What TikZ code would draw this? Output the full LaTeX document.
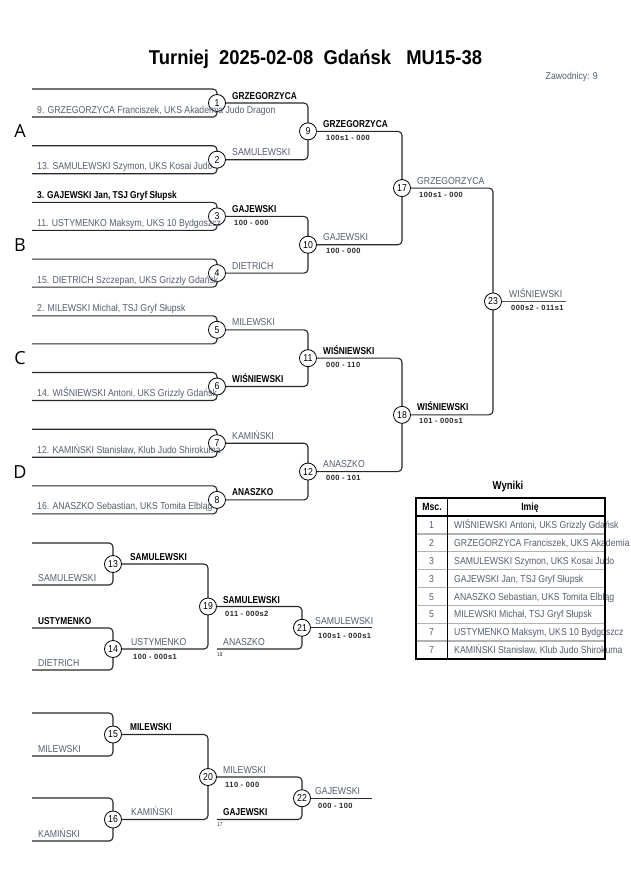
\documentclass[tikz,border=0pt]{standalone}
\usepackage{fontspec}
\setmainfont{Liberation Sans}[FakeStretch=0.87]
\newfontfamily\bnf{Liberation Sans}[FakeStretch=0.83]
\newfontfamily\ttlf{Liberation Sans}[FakeStretch=0.92]
\newfontfamily\scf{Liberation Sans}[LetterSpace=6]
\newfontfamily\letf{Open Sans}
\definecolor{nmgray}{RGB}{85,95,110}
\definecolor{ln}{RGB}{40,40,40}
\tikzset{
  br/.style={draw=ln, line width=1.1pt, rounded corners=4pt},
  fin/.style={draw=ln!80, line width=1.6pt},
  mc/.style={circle, draw=black, line width=0.8pt, fill=white, minimum size=17pt, inner sep=0pt, font=\fontsize{10}{11}\selectfont},
  nm/.style={anchor=base west, inner sep=0pt, text=nmgray, font=\fontsize{10}{12}\selectfont},
  wn/.style={anchor=base west, inner sep=0pt, text=black, font=\bnf\fontsize{10}{12}\selectfont\bfseries},
  sc/.style={anchor=base west, inner sep=0pt, text=ln, font=\scf\fontsize{7.5}{9}\selectfont\bfseries},
  tiny/.style={anchor=base west, inner sep=0pt, text=ln, font=\fontsize{5.5}{6}\selectfont},
  grp/.style={inner sep=0pt, font=\letf\fontsize{18}{20}\selectfont},
}
\begin{document}
\begin{tikzpicture}[x=1pt,y=-1pt]
\useasboundingbox[fill=white] (0,0) rectangle (630,891);

% title
\node[anchor=base, inner sep=0pt, font=\ttlf\fontsize{20}{22}\selectfont\bfseries] (title) at (315.5,64) {Turniej\ \ 2025-02-08\ \ Gdańsk\ \ \ MU15-38};
\node[anchor=base east, inner sep=0pt, text=nmgray, font=\fontsize{10}{12}\selectfont] (zaw) at (598,80) {Zawodnicy: 9};

% ---------- main bracket coordinates ----------
\foreach \i/\y in {1/103,2/159.7,3/216.4,4/273.1,5/329.8,6/386.5,7/443.2,8/499.9} {
  \coordinate (c\i) at (217,\y);
  \coordinate (t\i) at (32,{\y-14});
  \coordinate (b\i) at (32,{\y+14});
  \draw[br] (t\i) -| (c\i) |- (b\i);
}
\coordinate (c9) at (308,131.35);
\coordinate (c10) at (308,244.75);
\coordinate (c11) at (308,358.15);
\coordinate (c12) at (308,471.55);
\coordinate (c17) at (402,188.05);
\coordinate (c18) at (402,414.85);
\coordinate (c23) at (493,301.45);
\coordinate (e23) at (566,301.45);
\draw[br] (c1) -| (c9) |- (c2);
\draw[br] (c3) -| (c10) |- (c4);
\draw[br] (c5) -| (c11) |- (c6);
\draw[br] (c7) -| (c12) |- (c8);
\draw[br] (c9) -| (c17) |- (c10);
\draw[br] (c11) -| (c18) |- (c12);
\draw[br] (c17) -| (c23) |- (c18);
\draw[fin] (c23) -- (e23);

% ---------- repechage coordinates ----------
\coordinate (c13) at (113,564);   \coordinate (t13) at (32,543); \coordinate (b13) at (32,585);
\coordinate (c14) at (113,649);   \coordinate (t14) at (32,628); \coordinate (b14) at (32,670);
\coordinate (c19) at (208,606.5);
\coordinate (c21) at (302,627.75); \coordinate (s21) at (217,649);
\coordinate (e21) at (372,627.75);
\coordinate (c15) at (113,734.5); \coordinate (t15) at (32,713); \coordinate (b15) at (32,756);
\coordinate (c16) at (113,819.5); \coordinate (t16) at (32,798); \coordinate (b16) at (32,841);
\coordinate (c20) at (208,777);
\coordinate (c22) at (302,798.25); \coordinate (s22) at (217,819.5);
\coordinate (e22) at (372,798.25);
\draw[br] (t13) -| (c13) |- (b13);
\draw[br] (t14) -| (c14) |- (b14);
\draw[br] (t15) -| (c15) |- (b15);
\draw[br] (t16) -| (c16) |- (b16);
\draw[br] (c13) -| (c19) |- (c14);
\draw[br] (c15) -| (c20) |- (c16);
\draw[br] (c19) -| (c21) |- (s21);
\draw[br] (c20) -| (c22) |- (s22);
\draw[br] (c21) -- (e21);
\draw[br] (c22) -- (e22);

% ---------- circles ----------
\foreach \i in {1,...,23} {
  \node[mc] (m\i) at (c\i) {\i};
}

% group letters
\node[grp] (gA) at (20,131) {A};
\node[grp] (gB) at (20,245) {B};
\node[grp] (gC) at (20,358) {C};
\node[grp] (gD) at (20,472) {D};

% ---------- round 1 competitors ----------
\node[nm] (p1b) at (37,113) {9. GRZEGORZYCA Franciszek, UKS Akademia Judo Dragon};
\node[nm] (p2b) at (37,169.7) {13. SAMULEWSKI Szymon, UKS Kosai Judo};
\node[wn] (p3t) at (37,198.4) {3. GAJEWSKI Jan, TSJ Gryf Słupsk};
\node[nm] (p3b) at (37,226.4) {11. USTYMENKO Maksym, UKS 10 Bydgoszcz};
\node[nm] (p4b) at (37,283.1) {15. DIETRICH Szczepan, UKS Grizzly Gdańsk};
\node[nm] (p5t) at (37,311.8) {2. MILEWSKI Michał, TSJ Gryf Słupsk};
\node[nm] (p6b) at (37,396.5) {14. WIŚNIEWSKI Antoni, UKS Grizzly Gdańsk};
\node[nm] (p7b) at (37,453.2) {12. KAMIŃSKI Stanisław, Klub Judo Shirokuma};
\node[nm] (p8b) at (37,509.9) {16. ANASZKO Sebastian, UKS Tomita Elbląg};

% ---------- round 1 winners ----------
\node[wn] (w1) at (232,99) {GRZEGORZYCA};
\node[nm] (w2) at (232,155.7) {SAMULEWSKI};
\node[wn] (w3) at (232,212.4) {GAJEWSKI};
\node[sc] (s3) at (234,225.4) {100 - 000};
\node[nm] (w4) at (232,269.1) {DIETRICH};
\node[nm] (w5) at (232,325.8) {MILEWSKI};
\node[wn] (w6) at (232,382.5) {WIŚNIEWSKI};
\node[nm] (w7) at (232,439.2) {KAMIŃSKI};
\node[wn] (w8) at (232,495.9) {ANASZKO};

% ---------- round 2 ----------
\node[wn] (w9) at (323,127.3) {GRZEGORZYCA};
\node[sc] (s9) at (326,140.3) {100s1 - 000};
\node[nm] (w10) at (323,240.7) {GAJEWSKI};
\node[sc] (s10) at (326,253.7) {100 - 000};
\node[wn] (w11) at (323,354.1) {WIŚNIEWSKI};
\node[sc] (s11) at (326,367.1) {000 - 110};
\node[nm] (w12) at (323,467.5) {ANASZKO};
\node[sc] (s12) at (326,480.5) {000 - 101};

% ---------- round 3 / final ----------
\node[nm] (w17) at (417,184) {GRZEGORZYCA};
\node[sc] (s17) at (419,197) {100s1 - 000};
\node[wn] (w18) at (417,410.8) {WIŚNIEWSKI};
\node[sc] (s18) at (419,423.8) {101 - 000s1};
\node[nm] (w23) at (509,297.4) {WIŚNIEWSKI};
\node[sc] (s23) at (511,310.4) {000s2 - 011s1};

% ---------- repechage 1 ----------
\node[nm] (p13b) at (38,581) {SAMULEWSKI};
\node[wn] (p14t) at (38,624) {USTYMENKO};
\node[nm] (p14b) at (38,666) {DIETRICH};
\node[wn] (w13) at (130,560) {SAMULEWSKI};
\node[nm] (w14) at (131,645) {USTYMENKO};
\node[sc] (s14) at (133,659) {100 - 000s1};
\node[wn] (w19) at (223,603) {SAMULEWSKI};
\node[sc] (s19) at (225,616) {011 - 000s2};
\node[nm] (q21) at (223,645) {ANASZKO};
\node[tiny] (f18) at (217,656) {18};
\node[nm] (w21) at (315,624) {SAMULEWSKI};
\node[sc] (s21t) at (318,638) {100s1 - 000s1};

% ---------- repechage 2 ----------
\node[nm] (p15b) at (38,752) {MILEWSKI};
\node[nm] (p16b) at (38,837) {KAMIŃSKI};
\node[wn] (w15) at (130,730) {MILEWSKI};
\node[nm] (w16) at (131,815) {KAMIŃSKI};
\node[nm] (w20) at (223,773) {MILEWSKI};
\node[sc] (s20) at (225,787) {110 - 000};
\node[wn] (q22) at (223,815) {GAJEWSKI};
\node[tiny] (f17) at (217,826) {17};
\node[nm] (w22) at (315,794) {GAJEWSKI};
\node[sc] (s22t) at (318,808) {000 - 100};

% ---------- results table ----------
\node[anchor=base, inner sep=0pt, font=\bnf\fontsize{11.5}{13}\selectfont\bfseries] (wyn) at (508,489) {Wyniki};
\foreach \i/\p/\n in {1/1/{WIŚNIEWSKI Antoni, UKS Grizzly Gdańsk},
                      2/2/{GRZEGORZYCA Franciszek, UKS Akademia},
                      3/3/{SAMULEWSKI Szymon, UKS Kosai Judo},
                      4/3/{GAJEWSKI Jan, TSJ Gryf Słupsk},
                      5/5/{ANASZKO Sebastian, UKS Tomita Elbląg},
                      6/5/{MILEWSKI Michał, TSJ Gryf Słupsk},
                      7/7/{USTYMENKO Maksym, UKS 10 Bydgoszcz},
                      8/7/{KAMIŃSKI Stanisław, Klub Judo Shirokuma}} {
  \node[anchor=base, inner sep=0pt, text=nmgray, font=\fontsize{10}{12}\selectfont] (rp\i) at (431.5,{516+17.875*(\i-0.5)+3.6}) {\p};
  \node[nm] (rn\i) at (454,{516+17.875*(\i-0.5)+3.6}) {\n};
  \ifnum\i<8
    \draw[draw=gray!60, line width=1.3pt] (416,{516+17.875*\i}) -- (605,{516+17.875*\i});
  \fi
}
\node[anchor=base, inner sep=0pt, font=\bnf\fontsize{10.5}{12}\selectfont\bfseries] (hmsc) at (432,510.5) {Msc.};
\node[anchor=base, inner sep=0pt, font=\bnf\fontsize{10.5}{12}\selectfont\bfseries] (himie) at (530,510.5) {Imię};
\draw[line width=1.5pt] (416,516) -- (605,516);
\draw[line width=1pt] (447,498) -- (447,659);
\draw[line width=2pt] (416,498) rectangle (605,659);
\end{tikzpicture}
\end{document}
